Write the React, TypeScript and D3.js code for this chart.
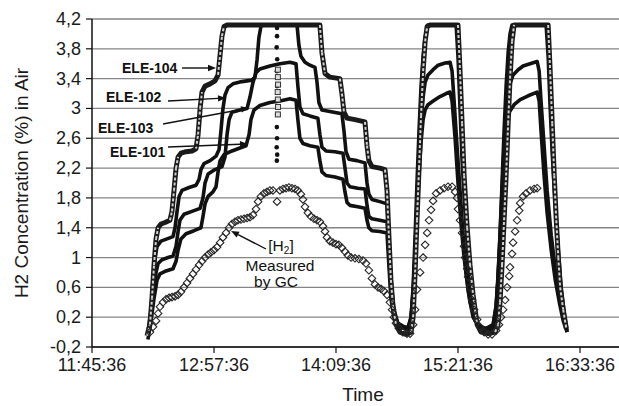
import React, { useEffect } from "react";
import * as d3 from "d3";

const W = 619;
const H = 406;

// time axis: elapsed minutes since 11:45:36
const xTickMinutes = [0, 72, 144, 216, 288];
const xTickLabels = ["11:45:36", "12:57:36", "14:09:36", "15:21:36", "16:33:36"];
const yTicks = [4.2, 3.8, 3.4, 3, 2.6, 2.2, 1.8, 1.4, 1, 0.6, 0.2, -0.2];
const yTickLabels = ["4,2", "3,8", "3,4", "3", "2,6", "2,2", "1,8", "1,4", "1", "0,6", "0,2", "-0,2"];

type P = [number, number];

const ele104: P[] = [
  [32.5, -0.05], [34.2, 0.1], [35.4, 0.45], [36.6, 0.9], [37.8, 1.25], [39.0, 1.4], [40.7, 1.45], [43.1, 1.47],
  [46.0, 1.5], [47.2, 1.62], [48.4, 1.9], [49.6, 2.2], [50.8, 2.35], [52.5, 2.4], [55.5, 2.42], [59.0, 2.43],
  [61.4, 2.46], [62.6, 2.65], [63.8, 3.0], [64.9, 3.22], [66.7, 3.3], [69.7, 3.33], [72.6, 3.37], [74.4, 3.45],
  [75.6, 3.72], [76.7, 3.97], [77.9, 4.1], [79.7, 4.12], [134.5, 4.12], [135.7, 3.75], [137.5, 3.47], [140.4, 3.42],
  [146.3, 3.4], [147.5, 3.2], [148.7, 2.95], [150.5, 2.87], [155.2, 2.85], [161.1, 2.82], [162.3, 2.5], [163.4, 2.3],
  [165.2, 2.22], [169.9, 2.2], [172.9, 2.18], [174.1, 1.9], [175.2, 1.3], [176.4, 0.7], [177.6, 0.35], [179.4, 0.1], [181.7, 0.0],
  [185.3, -0.03], [188.3, 0.0], [189.5, 0.2], [190.7, 0.8], [191.8, 1.5], [193.0, 2.2], [194.2, 2.9], [195.4, 3.5],
  [196.6, 3.9], [197.8, 4.1], [199.5, 4.12], [216.0, 4.12], [217.2, 3.5], [218.4, 2.8], [219.6, 2.1], [221.4, 1.4],
  [223.1, 0.9], [224.9, 0.5], [227.3, 0.1], [229.6, 0.0], [233.8, -0.02], [237.9, 0.0], [239.6, 0.1], [240.8, 0.4],
  [242.0, 0.9], [243.2, 1.5], [244.4, 2.1], [245.6, 2.8], [246.7, 3.4], [247.9, 3.9], [249.1, 4.12], [269.2, 4.12],
  [270.4, 3.5], [271.6, 2.8], [272.8, 2.1], [274.0, 1.5], [275.2, 1.0], [276.3, 0.6], [278.1, 0.3], [279.9, 0.05],
];

const ele102: P[] = [
  [33.0, 0.0], [34.8, 0.3], [36.0, 0.7], [37.2, 1.0], [38.4, 1.15], [40.7, 1.22], [44.3, 1.25], [47.8, 1.28],
  [49.0, 1.4], [50.2, 1.62], [51.4, 1.82], [53.1, 1.9], [57.3, 1.94], [61.4, 1.97], [63.2, 2.05], [64.3, 2.18],
  [66.1, 2.26], [69.7, 2.3], [73.2, 2.36], [75.0, 2.45], [76.1, 2.7], [77.3, 3.0], [78.5, 3.18], [80.3, 3.28],
  [83.2, 3.33], [88.5, 3.36], [94.4, 3.38], [96.2, 3.42], [97.4, 3.65], [98.5, 3.95], [99.7, 4.1], [101.5, 4.12],
  [121.0, 4.12], [122.1, 3.85], [123.3, 3.7], [125.7, 3.62], [128.6, 3.58], [131.6, 3.55], [132.8, 3.35], [133.9, 3.08],
  [135.7, 2.98], [140.4, 2.96], [147.5, 2.93], [148.7, 2.7], [149.9, 2.42], [151.6, 2.32], [156.3, 2.3], [161.1, 2.27],
  [162.3, 2.0], [163.4, 1.85], [165.2, 1.78], [169.9, 1.75], [174.1, 1.72], [175.2, 1.3], [176.4, 0.7], [178.2, 0.3],
  [180.5, 0.12], [183.5, 0.05], [186.5, 0.03], [188.3, 0.2], [189.5, 0.6], [190.7, 1.3], [191.8, 2.0], [193.0, 2.7],
  [194.2, 3.3], [195.4, 3.7], [196.6, 3.95], [198.3, 4.12], [214.9, 4.12], [216.0, 3.7], [217.2, 3.0], [218.4, 2.3],
  [220.2, 1.6], [222.0, 1.0], [223.7, 0.55], [226.1, 0.2], [229.0, 0.06], [233.2, 0.02], [236.7, 0.05], [238.5, 0.3],
  [239.6, 0.7], [240.8, 1.3], [242.0, 2.0], [243.2, 2.7], [244.4, 3.3], [245.6, 3.75], [246.7, 4.0], [247.9, 4.12],
  [268.0, 4.12], [269.2, 3.7], [270.4, 3.0], [271.6, 2.4], [273.4, 1.7], [275.2, 1.1], [276.9, 0.6], [278.7, 0.25],
  [280.4, 0.0],
];

const ele103: P[] = [
  [33.0, -0.05], [34.8, 0.2], [36.6, 0.55], [37.8, 0.8], [39.0, 0.92], [41.3, 0.97], [44.9, 1.0], [47.8, 1.02],
  [49.6, 1.15], [50.8, 1.35], [51.9, 1.5], [54.3, 1.58], [59.0, 1.62], [63.8, 1.66], [65.5, 1.8], [66.7, 2.0],
  [68.5, 2.12], [72.6, 2.18], [76.7, 2.22], [78.5, 2.35], [79.7, 2.65], [80.9, 2.85], [82.6, 2.95], [87.3, 2.98],
  [91.5, 3.0], [93.2, 3.15], [95.0, 3.35], [96.8, 3.48], [99.1, 3.53], [105.0, 3.57], [110.9, 3.6], [116.8, 3.62],
  [120.4, 3.6], [121.5, 3.3], [122.7, 3.02], [124.5, 2.93], [128.6, 2.9], [133.3, 2.87], [134.5, 2.65], [135.7, 2.48],
  [138.1, 2.43], [143.4, 2.42], [148.1, 2.4], [149.3, 2.2], [150.5, 2.0], [152.2, 1.95], [156.9, 1.93], [161.1, 1.92],
  [162.3, 1.7], [163.4, 1.55], [165.2, 1.52], [169.9, 1.5], [174.1, 1.48], [175.2, 1.1], [176.4, 0.6], [178.2, 0.25],
  [180.5, 0.12], [183.5, 0.08], [186.5, 0.06], [188.3, 0.2], [189.5, 0.55], [190.7, 1.1], [191.8, 1.7], [193.0, 2.3],
  [194.2, 2.8], [195.4, 3.15], [196.6, 3.35], [198.3, 3.45], [201.3, 3.52], [204.3, 3.58], [208.4, 3.61], [211.3, 3.62],
  [212.5, 3.5], [213.7, 3.1], [215.4, 2.5], [217.2, 1.9], [219.0, 1.3], [220.8, 0.8], [223.1, 0.4], [226.1, 0.15],
  [229.6, 0.06], [233.8, 0.04], [236.7, 0.08], [238.5, 0.35], [239.6, 0.75], [240.8, 1.3], [242.0, 1.9], [243.2, 2.5],
  [244.4, 2.95], [246.2, 3.3], [248.5, 3.45], [251.5, 3.52], [254.4, 3.57], [258.5, 3.6], [262.7, 3.63], [263.9, 3.5],
  [265.0, 3.1], [266.8, 2.5], [268.6, 1.9], [271.0, 1.3], [273.4, 0.85], [275.8, 0.5], [278.1, 0.2], [280.4, 0.02],
];

const ele101: P[] = [
  [33.0, -0.1], [34.8, 0.15], [36.6, 0.45], [38.4, 0.7], [40.1, 0.78], [43.7, 0.82], [47.8, 0.85], [49.6, 0.95],
  [50.8, 1.1], [52.5, 1.25], [55.5, 1.32], [60.2, 1.36], [64.3, 1.4], [65.5, 1.55], [66.7, 1.72], [68.5, 1.82],
  [71.4, 1.88], [73.2, 1.95], [74.4, 2.15], [75.6, 2.3], [77.9, 2.38], [82.6, 2.43], [87.3, 2.47], [90.9, 2.5],
  [92.7, 2.65], [93.8, 2.85], [95.6, 2.98], [99.1, 3.04], [105.0, 3.08], [110.9, 3.1], [116.8, 3.13], [120.4, 3.11],
  [121.5, 2.85], [122.7, 2.6], [124.5, 2.53], [128.6, 2.5], [133.3, 2.48], [134.5, 2.3], [135.7, 2.15], [138.1, 2.1],
  [143.4, 2.08], [148.1, 2.05], [149.3, 1.88], [150.5, 1.74], [152.2, 1.7], [156.9, 1.68], [161.1, 1.66], [162.3, 1.5],
  [163.4, 1.4], [165.2, 1.36], [169.9, 1.35], [174.1, 1.33], [175.2, 0.9], [176.4, 0.45], [178.2, 0.2], [180.5, 0.1],
  [183.5, 0.06], [186.5, 0.05], [188.3, 0.18], [189.5, 0.5], [190.7, 1.0], [191.8, 1.55], [193.0, 2.1], [194.2, 2.55],
  [195.4, 2.85], [196.6, 2.98], [198.3, 3.05], [201.3, 3.1], [205.4, 3.16], [209.0, 3.2], [211.3, 3.22], [212.5, 3.1],
  [214.3, 2.6], [216.0, 2.0], [217.8, 1.45], [219.6, 1.0], [222.0, 0.55], [224.9, 0.2], [228.5, 0.08], [232.6, 0.05],
  [236.7, 0.1], [238.5, 0.35], [239.6, 0.7], [240.8, 1.2], [242.0, 1.75], [243.2, 2.3], [244.4, 2.7], [246.2, 2.95],
  [249.1, 3.05], [252.7, 3.12], [257.4, 3.17], [262.7, 3.22], [263.9, 3.1], [265.0, 2.7], [266.8, 2.1], [268.6, 1.6],
  [271.0, 1.1], [273.4, 0.7], [275.8, 0.4], [278.1, 0.15], [280.4, 0.0],
];

const gcH2: P[] = [
  [34.2, 0.0], [36.0, 0.07], [37.8, 0.15], [39.0, 0.25], [40.1, 0.34], [41.9, 0.4], [43.7, 0.44], [45.5, 0.46],
  [47.2, 0.47], [49.0, 0.48], [50.8, 0.5], [52.5, 0.54], [54.3, 0.6], [56.1, 0.66], [57.8, 0.72], [59.6, 0.78],
  [61.4, 0.84], [63.2, 0.9], [64.9, 0.95], [66.7, 1.0], [68.5, 1.04], [70.2, 1.07], [72.0, 1.1], [73.8, 1.14],
  [75.6, 1.2], [77.3, 1.27], [79.1, 1.33], [80.9, 1.4], [82.6, 1.45], [84.4, 1.48], [86.1, 1.5], [87.9, 1.51],
  [89.7, 1.52], [91.5, 1.53], [93.2, 1.54], [95.0, 1.57], [96.8, 1.65], [98.0, 1.75], [99.7, 1.82], [101.5, 1.86],
  [103.3, 1.88], [105.0, 1.9], [106.8, 1.9], [109.2, 1.75], [110.9, 1.9], [112.7, 1.92], [114.5, 1.93], [116.2, 1.94],
  [118.0, 1.93], [119.8, 1.92], [121.5, 1.9], [123.3, 1.85], [124.5, 1.78], [125.7, 1.68], [127.4, 1.6], [129.2, 1.55],
  [131.0, 1.52], [132.8, 1.5], [134.5, 1.48], [136.3, 1.42], [137.5, 1.35], [138.7, 1.27], [140.4, 1.22], [142.2, 1.2],
  [144.0, 1.18], [145.7, 1.17], [147.5, 1.13], [149.3, 1.08], [151.0, 1.03], [152.9, 1.0], [155.2, 0.99], [157.5, 0.98],
  [159.9, 0.96], [161.7, 0.92], [163.4, 0.83], [165.2, 0.72], [167.0, 0.64], [168.8, 0.6], [170.6, 0.58], [172.3, 0.55],
  [174.1, 0.5], [175.8, 0.4], [177.1, 0.3], [178.2, 0.2], [179.4, 0.12], [181.1, 0.05], [183.5, 0.0], [185.9, -0.02],
  [187.7, -0.02], [189.5, 0.1], [190.7, 0.3], [191.8, 0.57], [193.6, 0.8], [195.4, 1.0], [196.6, 1.17], [197.8, 1.33],
  [198.9, 1.5], [200.1, 1.64], [201.3, 1.76], [203.1, 1.86], [205.4, 1.9], [207.8, 1.93], [210.1, 1.95], [212.5, 1.95],
  [214.3, 1.88], [215.4, 1.8], [216.0, 1.65], [217.2, 1.5], [218.4, 1.33], [219.6, 1.15], [220.2, 1.0], [221.4, 0.85],
  [222.0, 0.74], [223.1, 0.6], [224.3, 0.43], [225.5, 0.3], [227.3, 0.17], [229.0, 0.07], [231.4, 0.0], [233.8, -0.03],
  [236.1, -0.03], [238.5, 0.02], [240.2, 0.1], [241.4, 0.2], [242.6, 0.3], [243.8, 0.43], [245.0, 0.6], [246.2, 0.75],
  [246.7, 0.87], [247.9, 1.05], [248.5, 1.2], [249.7, 1.35], [250.9, 1.5], [252.1, 1.63], [252.7, 1.73], [254.4, 1.82],
  [256.2, 1.86], [258.5, 1.9], [260.9, 1.92], [262.7, 1.93],
];

// isolated readings around 13:34
const spikeDots: P[] = [
  [109.2, 4.08], [109.2, 3.97], [109.0, 3.82], [109.3, 3.66], [109.1, 3.5], [109.2, 3.3], [109.0, 3.1],
  [109.3, 2.92], [109.1, 2.75], [109.2, 2.6], [109.0, 2.48], [109.3, 2.38], [109.1, 2.3],
];
const spikeSquares: P[] = [
  [109.7, 3.52], [109.7, 3.42], [109.8, 3.32], [109.6, 3.22], [109.7, 3.12], [109.8, 3.02], [109.7, 2.92],
];

const annotations = [
  { label: "ELE-104", tx: 122, ty: 73, from: [182, 68], to: [216, 68] },
  { label: "ELE-102", tx: 106, ty: 102, from: [168, 101], to: [226, 98] },
  { label: "ELE-103", tx: 98, ty: 133, from: [163, 124], to: [249, 108] },
  { label: "ELE-101", tx: 110, ty: 157, from: [168, 147], to: [248, 144] },
];

const FONT = "'Liberation Sans', Arial, Helvetica, sans-serif";

function Arrow({ from, to }: { from: number[]; to: number[] }) {
  const [x1, y1] = from;
  const [x2, y2] = to;
  const a = Math.atan2(y2 - y1, x2 - x1);
  const L = 8, Wd = 3.2;
  const bx = x2 - L * Math.cos(a), by = y2 - L * Math.sin(a);
  const p1 = [bx + Wd * Math.sin(a), by - Wd * Math.cos(a)];
  const p2 = [bx - Wd * Math.sin(a), by + Wd * Math.cos(a)];
  return (
    <g>
      <line x1={x1} y1={y1} x2={bx} y2={by} stroke="#111" strokeWidth={1.4} />
      <path d={`M${x2},${y2}L${p1[0]},${p1[1]}L${p2[0]},${p2[1]}Z`} fill="#111" />
    </g>
  );
}

export default function App() {
  useEffect(() => {
    document.body.style.margin = "0";
  }, []);

  const x = d3.scaleLinear().domain([0, 288]).range([92, 580]);
  const y = d3.scaleLinear().domain([-0.2, 4.2]).range([347, 19]);
  const line = d3
    .line<P>()
    .x((d) => x(d[0]))
    .y((d) => y(d[1]));

  const steep104 = d3.pairs(ele104).filter(([a, b]) => {
    const dx = Math.abs(x(b[0]) - x(a[0]));
    const dy = Math.abs(y(b[1]) - y(a[1]));
    return dy > 2.2 * dx;
  });

  const diamond = "M0,-3.8L3.8,0L0,3.8L-3.8,0Z";

  return (
    <svg width={W} height={H} style={{ position: "absolute", left: 0, top: 0, background: "#fff" }} fontFamily={FONT}>
      <rect x={0} y={0} width={W} height={H} fill="#fff" />
      {/* grid */}
      {yTicks.map((t) => (
        <line key={"g" + t} x1={92} x2={619} y1={y(t)} y2={y(t)} stroke="#858585" strokeWidth={1.3} />
      ))}
      {/* y ticks & labels */}
      {yTicks.map((t, i) => (
        <g key={"yt" + t}>
          <line x1={86} x2={92} y1={y(t)} y2={y(t)} stroke="#111" strokeWidth={1.2} />
          <text x={81} y={y(t) + 6} textAnchor="end" fontSize={18} fill="#1a1a1a">
            {yTickLabels[i]}
          </text>
        </g>
      ))}
      {/* x ticks & labels */}
      {xTickMinutes.map((t, i) => (
        <g key={"xt" + t}>
          <line x1={x(t)} x2={x(t)} y1={347} y2={353} stroke="#111" strokeWidth={1.2} />
          <text x={x(t)} y={371} textAnchor="middle" fontSize={18} fill="#1a1a1a">
            {xTickLabels[i]}
          </text>
        </g>
      ))}
      {/* axes */}
      <line x1={92} x2={619} y1={347} y2={347} stroke="#111" strokeWidth={1.5} />
      <line x1={92} x2={92} y1={19} y2={347} stroke="#111" strokeWidth={1.5} />

      {/* sensor series */}
      <path d={line(ele101) || ""} fill="none" stroke="#111" strokeWidth={3.6} strokeLinejoin="round" />
      <path d={line(ele103) || ""} fill="none" stroke="#111" strokeWidth={3.6} strokeLinejoin="round" />
      <path d={line(ele102) || ""} fill="none" stroke="#111" strokeWidth={3.6} strokeLinejoin="round" />
      <path d={line(ele104) || ""} fill="none" stroke="#1a1a1a" strokeWidth={5} strokeLinejoin="round" />
      {steep104.map(([a, b], i) => (
        <line
          key={"s" + i}
          x1={x(a[0])}
          y1={y(a[1])}
          x2={x(b[0])}
          y2={y(b[1])}
          stroke="#cfcfcf"
          strokeWidth={2}
          strokeDasharray="3 2"
        />
      ))}
      {spikeDots.map((d, i) => (
        <circle key={"sd" + i} cx={x(d[0])} cy={y(d[1])} r={2.3} fill="#111" />
      ))}
      {spikeSquares.map((d, i) => (
        <rect key={"sq" + i} x={x(d[0]) - 2.5} y={y(d[1]) - 2.5} width={5} height={5} fill="#ddd" stroke="#333" strokeWidth={1} />
      ))}
      {/* GC diamonds */}
      {gcH2.map((d, i) => (
        <path key={"gc" + i} d={diamond} transform={`translate(${x(d[0])},${y(d[1])})`} fill="none" stroke="#262626" strokeWidth={1.1} />
      ))}

      {/* annotations */}
      {annotations.map((a) => (
        <g key={a.label}>
          <text x={a.tx} y={a.ty} fontSize={14} fontWeight="bold" fill="#111">
            {a.label}
          </text>
          <Arrow from={a.from} to={a.to} />
        </g>
      ))}
      <text x={281} y={251} textAnchor="middle" fontSize={15.5} fill="#111">
        [H<tspan fontSize={10} dy={3}>2</tspan>
        <tspan dy={-3}>]</tspan>
      </text>
      <text x={280} y={271} textAnchor="middle" fontSize={15.5} fill="#111">
        Measured
      </text>
      <text x={276} y={287} textAnchor="middle" fontSize={15.5} fill="#111">
        by GC
      </text>
      <Arrow from={[266, 249]} to={[231, 231]} />

      {/* axis titles */}
      <text x={363} y={401} textAnchor="middle" fontSize={19} fill="#1a1a1a">
        Time
      </text>
      <text transform="translate(28,183) rotate(-90)" textAnchor="middle" fontSize={19} fill="#1a1a1a">
        H2 Concentration (%) in Air
      </text>
    </svg>
  );
}
